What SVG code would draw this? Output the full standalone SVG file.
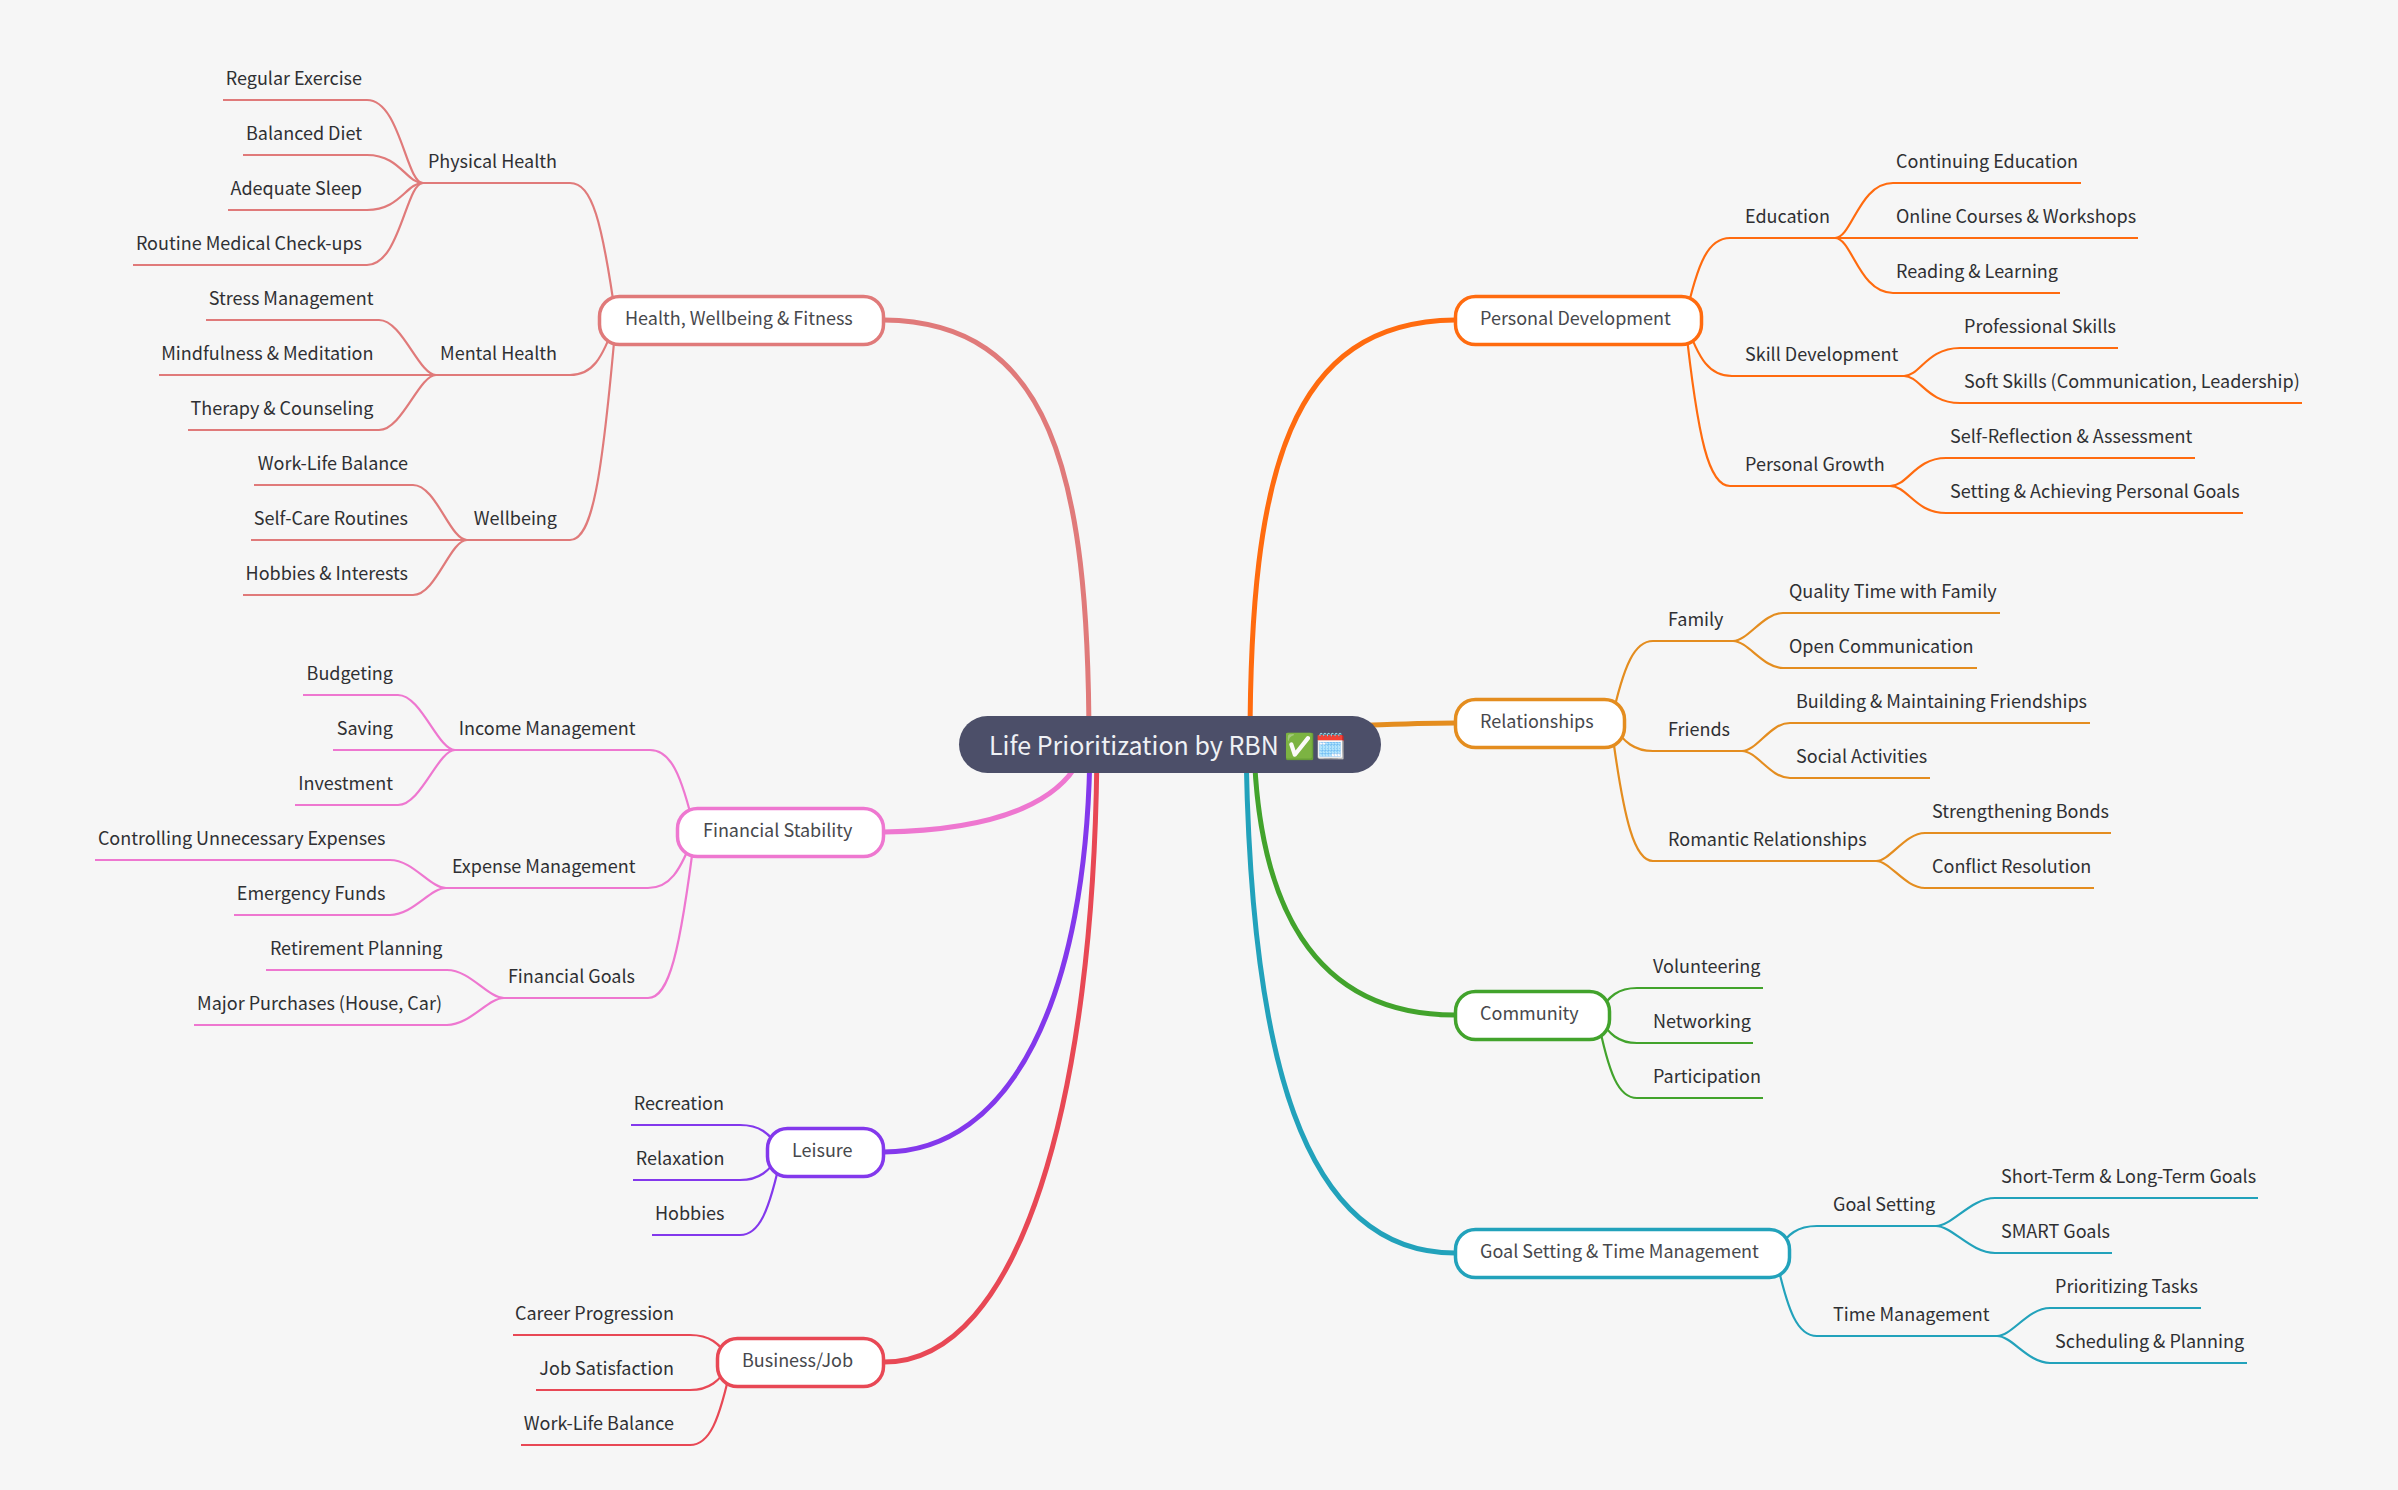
<svg xmlns="http://www.w3.org/2000/svg" width="2398" height="1490" viewBox="0 0 2398 1490">
<style>
text{font-family:"Noto Sans CJK SC","Noto Sans",sans-serif;font-size:18px;fill:#2f3033}
.n text{fill:#47484c}
.n rect{fill:#fff;stroke-width:3.500}
path{fill:none;stroke-width:2.200}
.m{stroke-width:5}
.end{text-anchor:end}
.a{stroke:#e07a7a}.b{stroke:#ee77d0}.c{stroke:#8338ec}.d{stroke:#e84855}
.e{stroke:#ff6b0f}.f{stroke:#e48d1f}.g{stroke:#42a32c}.h{stroke:#22a2bb}
</style>
<rect width="2398" height="1490" fill="#f6f6f6"/>
<g id="connectors">
<path class="m a" d="M1089 745C1089 470 1050 322 884 320"/>
<path class="m b" d="M1085 745C1070 800 1000 830 884 832"/>
<path class="m c" d="M1090 745C1088 1000 1010 1152 884 1152"/>
<path class="m d" d="M1097 745C1095 1100 1020 1362 884 1362"/>
<path class="m e" d="M1250 745C1250 470 1290 322 1455 320"/>
<path class="m f" d="M1350 726C1400 724 1420 723 1455 723"/>
<path class="m g" d="M1254 745C1258 900 1310 1015 1455 1015"/>
<path class="m h" d="M1246 745C1250 1050 1300 1253 1455 1253"/>

<path class="a" d="M616 320C602 220 592 183 570 183H423"/>
<path class="a" d="M616 320C602 360 592 375 570 375H436"/>
<path class="a" d="M616 320C602 481 592 540 570 540H467"/>
<path class="a" d="M423 183C406 183 400 100 367 100H223"/>
<path class="a" d="M423 183C406 183 400 155 367 155H243"/>
<path class="a" d="M423 183C406 183 400 210 367 210H228"/>
<path class="a" d="M423 183C406 183 400 265 367 265H133"/>
<path class="a" d="M436 375C419 375 402 320 379 320H206"/>
<path class="a" d="M436 375H159"/>
<path class="a" d="M436 375C419 375 402 430 379 430H188"/>
<path class="a" d="M467 540C450 540 436 485 413 485H254"/>
<path class="a" d="M467 540H251"/>
<path class="a" d="M467 540C450 540 436 595 413 595H243"/>

<path class="b" d="M695 832C681 772 670 750 650 750H455"/>
<path class="b" d="M695 832C680 873 669 888 648 888H446"/>
<path class="b" d="M695 832C680 953 669 998 648 998H504"/>
<path class="b" d="M455 750C438 750 421 695 398 695H303"/>
<path class="b" d="M455 750H333"/>
<path class="b" d="M455 750C438 750 421 805 398 805H295"/>
<path class="b" d="M446 888C430 888 413 860 390 860H95"/>
<path class="b" d="M446 888C430 888 413 915 390 915H234"/>
<path class="b" d="M504 998C488 998 470 970 447 970H266"/>
<path class="b" d="M504 998C488 998 470 1025 447 1025H194"/>

<path class="c" d="M782 1152C769 1132 759 1125 740 1125H631"/>
<path class="c" d="M782 1152C769 1172 759 1180 740 1180H633"/>
<path class="c" d="M782 1152C769 1213 759 1235 740 1235H652"/>

<path class="d" d="M732 1362C719 1342 709 1335 690 1335H513"/>
<path class="d" d="M732 1362C719 1382 709 1390 690 1390H536"/>
<path class="d" d="M732 1362C719 1423 709 1445 690 1445H521"/>

<path class="e" d="M1685 320C1698 260 1709 238 1730 238H1835"/>
<path class="e" d="M1685 320C1699 361 1710 376 1732 376H1904"/>
<path class="e" d="M1685 320C1698 441 1709 486 1730 486H1890"/>
<path class="e" d="M1835 238C1852 238 1859 183 1893 183H2081"/>
<path class="e" d="M1835 238H2138"/>
<path class="e" d="M1835 238C1852 238 1859 293 1893 293H2060"/>
<path class="e" d="M1904 376C1920 376 1927 348 1960 348H2118"/>
<path class="e" d="M1904 376C1920 376 1927 403 1960 403H2302"/>
<path class="e" d="M1890 486C1908 486 1915 458 1946 458H2195"/>
<path class="e" d="M1890 486C1908 486 1915 513 1946 513H2243"/>

<path class="f" d="M1611 723C1624 663 1635 641 1653 641H1733"/>
<path class="f" d="M1611 723C1624 743 1635 751 1653 751H1742"/>
<path class="f" d="M1611 723C1624 824 1635 861 1653 861H1877"/>
<path class="f" d="M1733 641C1748 641 1763 613 1783 613H2000"/>
<path class="f" d="M1733 641C1748 641 1763 668 1783 668H1977"/>
<path class="f" d="M1742 751C1757 751 1770 723 1790 723H2090"/>
<path class="f" d="M1742 751C1757 751 1770 778 1790 778H1930"/>
<path class="f" d="M1876 861C1890 861 1905 833 1925 833H2111"/>
<path class="f" d="M1876 861C1890 861 1905 888 1925 888H2094"/>

<path class="g" d="M1597 1015C1609 995 1619 988 1637 988H1763"/>
<path class="g" d="M1597 1015C1609 1035 1619 1043 1637 1043H1753"/>
<path class="g" d="M1597 1015C1609 1076 1619 1098 1637 1098H1763"/>

<path class="h" d="M1775 1253C1788 1233 1798 1226 1817 1226H1936"/>
<path class="h" d="M1775 1253C1788 1314 1798 1336 1817 1336H1997"/>
<path class="h" d="M1936 1226C1952 1226 1971 1198 1995 1198H2258"/>
<path class="h" d="M1936 1226C1952 1226 1971 1253 1995 1253H2112"/>
<path class="h" d="M1997 1336C2012 1336 2028 1308 2050 1308H2201"/>
<path class="h" d="M1997 1336C2012 1336 2028 1363 2050 1363H2247"/>
</g>

<g id="root"><rect x="959" y="716" width="422" height="57" rx="28.500" fill="#4c4f69"/><text x="989" y="755" style="font-size:25px;fill:#eff1f5">Life Prioritization by RBN <tspan style="font-family:'Noto Color Emoji','Noto Sans CJK SC',sans-serif">✅🗓️</tspan></text></g>

<g class="n" id="n-health"><rect class="a" x="599.500" y="296.500" width="284" height="48" rx="20"/><text x="625" y="325">Health, Wellbeing &amp; Fitness</text></g>
<g class="n" id="n-financial"><rect class="b" x="677.500" y="808.500" width="206" height="48" rx="20"/><text x="703" y="837">Financial Stability</text></g>
<g class="n" id="n-leisure"><rect class="c" x="767.500" y="1128.500" width="116" height="48" rx="20"/><text x="792" y="1157">Leisure</text></g>
<g class="n" id="n-business"><rect class="d" x="717.500" y="1338.500" width="166" height="48" rx="20"/><text x="742" y="1367">Business/Job</text></g>
<g class="n" id="n-personal"><rect class="e" x="1455.500" y="296.500" width="246" height="48" rx="20"/><text x="1480" y="325">Personal Development</text></g>
<g class="n" id="n-relationships"><rect class="f" x="1455.500" y="699.500" width="169" height="48" rx="20"/><text x="1480" y="728">Relationships</text></g>
<g class="n" id="n-community"><rect class="g" x="1455.500" y="991.500" width="154" height="48" rx="20"/><text x="1480" y="1020">Community</text></g>
<g class="n" id="n-goal"><rect class="h" x="1455.500" y="1229.500" width="334" height="48" rx="20"/><text x="1480" y="1258">Goal Setting &amp; Time Management</text></g>

<g id="t-physical"><text x="557" y="168" class="end">Physical Health</text></g>
<g id="t-mental"><text x="557" y="360" class="end">Mental Health</text></g>
<g id="t-wellbeing"><text x="557" y="525" class="end">Wellbeing</text></g>
<g id="t-regular"><text x="362" y="85" class="end">Regular Exercise</text></g>
<g id="t-balanced"><text x="362" y="140" class="end">Balanced Diet</text></g>
<g id="t-adequate"><text x="362" y="195" class="end">Adequate Sleep</text></g>
<g id="t-routine"><text x="362" y="250" class="end">Routine Medical Check-ups</text></g>
<g id="t-stress"><text x="373.500" y="305" class="end">Stress Management</text></g>
<g id="t-mindful"><text x="373.500" y="360" class="end">Mindfulness &amp; Meditation</text></g>
<g id="t-therapy"><text x="373.500" y="415" class="end">Therapy &amp; Counseling</text></g>
<g id="t-worklife"><text x="408" y="470" class="end">Work-Life Balance</text></g>
<g id="t-selfcare"><text x="408" y="525" class="end">Self-Care Routines</text></g>
<g id="t-hobbies1"><text x="408" y="580" class="end">Hobbies &amp; Interests</text></g>

<g id="t-income"><text x="635.500" y="735" class="end">Income Management</text></g>
<g id="t-expense"><text x="635.500" y="873" class="end">Expense Management</text></g>
<g id="t-fgoals"><text x="635" y="983" class="end">Financial Goals</text></g>
<g id="t-budget"><text x="393" y="680" class="end">Budgeting</text></g>
<g id="t-saving"><text x="393" y="735" class="end">Saving</text></g>
<g id="t-invest"><text x="393" y="790" class="end">Investment</text></g>
<g id="t-controlling"><text x="385.500" y="845" class="end">Controlling Unnecessary Expenses</text></g>
<g id="t-emergency"><text x="385.500" y="900" class="end">Emergency Funds</text></g>
<g id="t-retire"><text x="442.500" y="955" class="end">Retirement Planning</text></g>
<g id="t-major"><text x="442" y="1010" class="end">Major Purchases (House, Car)</text></g>

<g id="t-recreation"><text x="724" y="1110" class="end">Recreation</text></g>
<g id="t-relaxation"><text x="724.500" y="1165" class="end">Relaxation</text></g>
<g id="t-hobbies2"><text x="724.500" y="1220" class="end">Hobbies</text></g>
<g id="t-career"><text x="674" y="1320" class="end">Career Progression</text></g>
<g id="t-jobsat"><text x="674" y="1375" class="end">Job Satisfaction</text></g>
<g id="t-wlb2"><text x="674" y="1430" class="end">Work-Life Balance</text></g>

<g id="t-education"><text x="1745" y="223">Education</text></g>
<g id="t-skill"><text x="1745" y="361">Skill Development</text></g>
<g id="t-growth"><text x="1745" y="471">Personal Growth</text></g>
<g id="t-continuing"><text x="1896" y="168">Continuing Education</text></g>
<g id="t-online"><text x="1896" y="223">Online Courses &amp; Workshops</text></g>
<g id="t-reading"><text x="1896" y="278">Reading &amp; Learning</text></g>
<g id="t-prof"><text x="1964" y="333">Professional Skills</text></g>
<g id="t-soft"><text x="1964" y="388">Soft Skills (Communication, Leadership)</text></g>
<g id="t-selfref"><text x="1950" y="443">Self-Reflection &amp; Assessment</text></g>
<g id="t-setting"><text x="1950" y="498">Setting &amp; Achieving Personal Goals</text></g>

<g id="t-family"><text x="1668" y="626">Family</text></g>
<g id="t-friends"><text x="1668" y="736">Friends</text></g>
<g id="t-romantic"><text x="1668" y="846">Romantic Relationships</text></g>
<g id="t-quality"><text x="1789" y="598">Quality Time with Family</text></g>
<g id="t-open"><text x="1789" y="653">Open Communication</text></g>
<g id="t-building"><text x="1796" y="708">Building &amp; Maintaining Friendships</text></g>
<g id="t-social"><text x="1796" y="763">Social Activities</text></g>
<g id="t-strength"><text x="1932" y="818">Strengthening Bonds</text></g>
<g id="t-conflict"><text x="1932" y="873">Conflict Resolution</text></g>

<g id="t-vol"><text x="1653" y="973">Volunteering</text></g>
<g id="t-net"><text x="1653" y="1028">Networking</text></g>
<g id="t-part"><text x="1653" y="1083">Participation</text></g>
<g id="t-goalset"><text x="1833" y="1211">Goal Setting</text></g>
<g id="t-time"><text x="1833" y="1321">Time Management</text></g>
<g id="t-short"><text x="2001" y="1183">Short-Term &amp; Long-Term Goals</text></g>
<g id="t-smart"><text x="2001" y="1238">SMART Goals</text></g>
<g id="t-prior"><text x="2055" y="1293">Prioritizing Tasks</text></g>
<g id="t-sched"><text x="2055" y="1348">Scheduling &amp; Planning</text></g>
</svg>
